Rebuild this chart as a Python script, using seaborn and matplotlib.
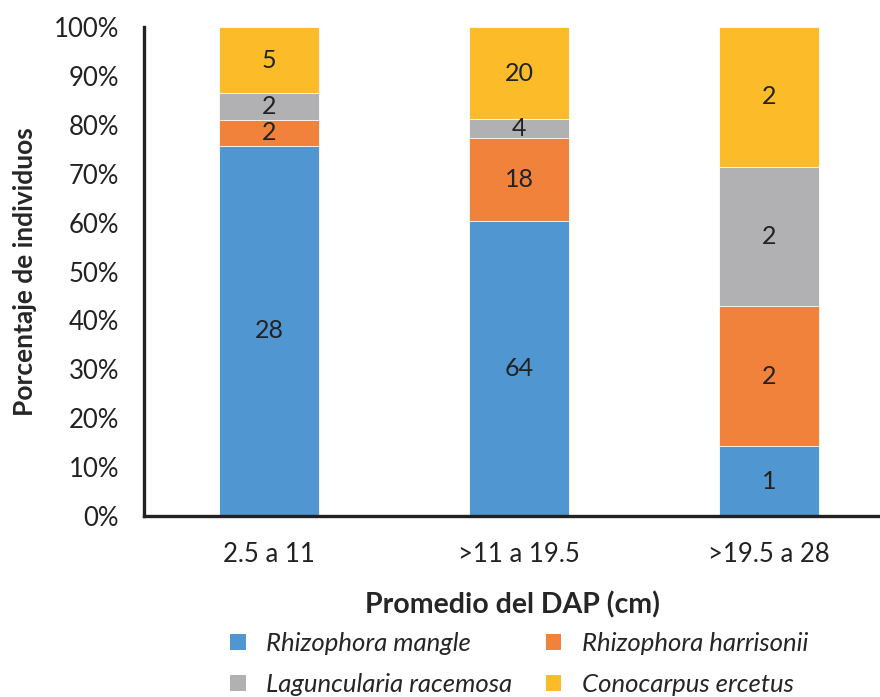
import numpy as np
import pandas as pd
import matplotlib
matplotlib.use("Agg")
import matplotlib.pyplot as plt
import seaborn as sns
from matplotlib.patches import Patch
from matplotlib.ticker import PercentFormatter

categories = ["2.5 a 11", ">11 a 19.5", ">19.5 a 28"]
species = ["Rhizophora mangle", "Rhizophora harrisonii",
           "Laguncularia racemosa", "Conocarpus ercetus"]
mangle = [28, 64, 1]
harrisonii = [2, 18, 2]
racemosa = [2, 4, 2]
ercetus = [5, 20, 2]
colors = ["#5096D0", "#F0823C", "#B1B1B3", "#FCBC2A"]

sns.set_style("white")
plt.rcParams['font.family'] = ['Lato', 'DejaVu Sans']

counts = np.array([mangle, harrisonii, racemosa, ercetus], dtype=float)
pct = counts / counts.sum(axis=0) * 100
cum = pct.cumsum(axis=0)

fig = plt.figure(figsize=(8.8, 6.97), dpi=100)
ax = fig.add_axes([144 / 880, 1 - 516 / 697, 736 / 880, (516 - 27) / 697])

# draw from the top of the stack downwards so lower layers overlay
for i in range(3, -1, -1):
    df = pd.DataFrame({"cat": categories, "val": cum[i]})
    sns.barplot(data=df, x="cat", y="val", color=colors[i], width=0.4,
                saturation=1, ax=ax, errorbar=None, edgecolor="white",
                linewidth=0.6)

for j in range(3):
    for i in range(4):
        mid = cum[i, j] - pct[i, j] / 2
        ax.text(j, mid, f"{int(counts[i, j])}", ha="center", va="center",
                fontsize=18, color="#222222")

ax.set_xlim(-0.5, -0.5 + 736 / 250)
ax.set_ylim(0, 100)
ax.set_yticks(np.arange(0, 101, 10))
ax.yaxis.set_major_formatter(PercentFormatter(decimals=0))
ax.tick_params(axis="both", length=0, labelsize=18.5, colors="#222222")
ax.tick_params(axis="y", pad=18)
ax.tick_params(axis="x", pad=19)
for s in ["top", "right"]:
    ax.spines[s].set_visible(False)
for s in ["left", "bottom"]:
    ax.spines[s].set_linewidth(2.4)
    ax.spines[s].set_color("#222222")

ax.set_xlabel("Promedio del DAP (cm)", fontsize=20.5, fontweight="bold", labelpad=17)
ax.set_ylabel("Porcentaje de individuos", fontsize=19, fontweight="bold", labelpad=12)

# legend fills by column, so order gives rows: mangle/harrisonii, racemosa/ercetus
order = [0, 2, 1, 3]
handles = [Patch(facecolor=colors[k], edgecolor="none") for k in order]
labels = [species[k] for k in order]
fig.legend(handles, labels, loc="lower center", bbox_to_anchor=(0.59, -0.032),
           ncol=2, frameon=False, prop={"style": "italic", "size": 18.5},
           handlelength=0.6, handleheight=0.6, columnspacing=1.3,
           handletextpad=0.8, labelspacing=0.7)

fig.savefig("out.png", dpi=100)
